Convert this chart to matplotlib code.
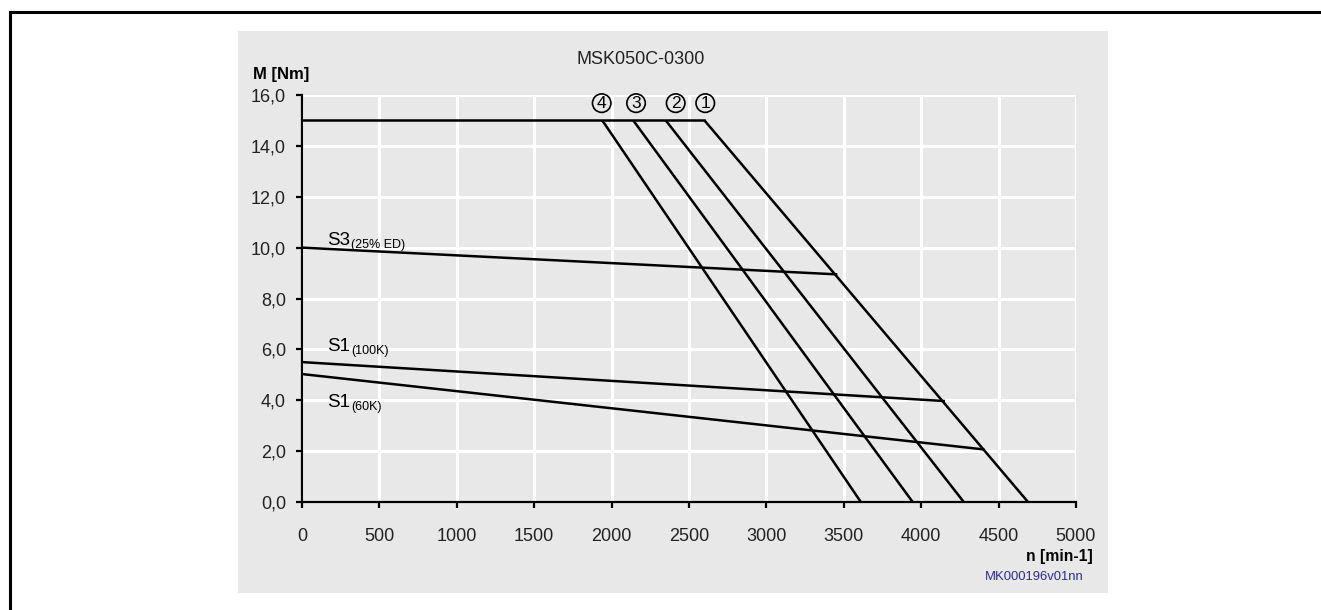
import matplotlib
matplotlib.use('Agg')
import matplotlib.pyplot as plt
from matplotlib.lines import Line2D
from matplotlib.patches import Rectangle

plt.rcParams['font.family'] = ['Liberation Sans', 'DejaVu Sans']

# Kennlinien MSK050C-0300 (n in min-1, M in Nm)
m_max = 15.0
kurve_nr = ['4', '3', '2', '1']
n_knick = [1940, 2140, 2350, 2600]      # Beginn Spannungsgrenze
n_ende = [3610, 3945, 4275, 4690]       # Schnitt mit M = 0
nr_pos_n = [1936, 2158, 2414, 2605]
nr_pos_m = 15.68

s3_n = [0, 3450]
s3_m = [10.0, 8.95]
s1_100_n = [0, 4145]
s1_100_m = [5.5, 3.97]
s1_60_n = [0, 4400]
s1_60_m = [5.03, 2.07]

x_ticks = [0, 500, 1000, 1500, 2000, 2500, 3000, 3500, 4000, 4500, 5000]
y_ticks = [0, 2, 4, 6, 8, 10, 12, 14, 16]

W, H = 1321, 610
fig = plt.figure(figsize=(W / 100, H / 100), dpi=100)
fig.patch.set_facecolor('white')

# grauer Hintergrund + Rahmen
fig.patches.append(Rectangle((238 / W, 1 - 593 / H), 870 / W, 562 / H,
                             transform=fig.transFigure, facecolor='#e8e8e8',
                             edgecolor='none', zorder=-10))
fig.lines.append(Line2D([10 / W, 1.0], [1 - 12 / H, 1 - 12 / H],
                        transform=fig.transFigure, color='black', lw=2.2))
fig.lines.append(Line2D([10 / W, 10 / W], [0, 1 - 12 / H],
                        transform=fig.transFigure, color='black', lw=2.2))

ax = fig.add_axes([302 / W, 1 - 502 / H, 774 / W, 407 / H])
ax.set_facecolor('#e8e8e8')
ax.set_xlim(0, 5000)
ax.set_ylim(0, 16)
ax.set_xticks(x_ticks)
ax.set_yticks(y_ticks)
ax.set_xticklabels([str(v) for v in x_ticks])
ax.set_yticklabels([f"{v:.1f}".replace('.', ',') for v in y_ticks])
ax.grid(True, color='white', lw=2.2)
ax.set_axisbelow(True)
for s in ['top', 'right']:
    ax.spines[s].set_visible(False)
for s in ['left', 'bottom']:
    ax.spines[s].set_linewidth(1.6)
ax.tick_params(axis='both', direction='out', length=4.5, width=1.6,
               labelsize=13, colors='black', labelcolor='#222222')
ax.tick_params(axis='y', pad=7)
ax.tick_params(axis='x', pad=14.5)

lw = 1.8
# Kurven 1-4
for i in range(len(kurve_nr)):
    ax.plot([n_knick[i], n_ende[i]], [m_max, 0], color='black', lw=lw,
            clip_on=False, solid_capstyle='butt')
    ax.text(nr_pos_n[i], nr_pos_m, kurve_nr[i], fontsize=12.5, ha='center',
            va='center', clip_on=False,
            bbox=dict(boxstyle='circle,pad=0.1', fc='none', ec='black', lw=1.2))
ax.plot([0, n_knick[-1]], [m_max, m_max], color='black', lw=lw, clip_on=False)

ax.plot(s3_n, s3_m, color='black', lw=lw)
ax.plot(s1_100_n, s1_100_m, color='black', lw=lw)
ax.plot(s1_60_n, s1_60_m, color='black', lw=lw)

# Beschriftungen der Kennlinien
def label(px, py, main, sub):
    fig.text(px / W, 1 - py / H, main, fontsize=13.5, ha='left', va='baseline')
    fig.text((px + 24) / W, 1 - (py + 3) / H, sub, fontsize=9, ha='left',
             va='baseline')

label(327, 245, 'S3', '(25% ED)')
label(327, 351, 'S1', '(100K)')
label(327, 407, 'S1', '(60K)')

fig.text(641 / W, 1 - 60 / H, 'MSK050C-0300', fontsize=13, ha='center',
         va='center', color='#222222')
fig.text(253 / W, 1 - 74 / H, 'M [Nm]', fontsize=12, fontweight='bold',
         ha='left', va='center')
fig.text(1093 / W, 1 - 557 / H, 'n [min-1]', fontsize=11.3, fontweight='bold',
         ha='right', va='center')
fig.text(1084 / W, 1 - 577 / H, 'MK000196v01nn', fontsize=9.4, color='#2b2b99',
         ha='right', va='center')

plt.savefig('out.png', dpi=100)
plt.close()
